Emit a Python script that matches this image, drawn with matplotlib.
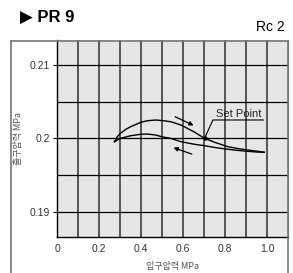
import matplotlib
matplotlib.use('Agg')
import matplotlib.pyplot as plt
from matplotlib.lines import Line2D
import numpy as np

plt.rcParams['font.family'] = ['Liberation Sans', 'DejaVu Sans', 'Noto Sans CJK KR']

# upper curve (increasing inlet pressure)
up_x = [0.272, 0.285, 0.301, 0.325, 0.349, 0.375, 0.397, 0.43, 0.469, 0.505, 0.541,
        0.59, 0.65, 0.701, 0.75, 0.813, 0.86, 0.909, 0.95, 0.985]
up_y = [0.19954, 0.2002, 0.20068, 0.2012, 0.20158, 0.2019, 0.20218, 0.2024, 0.2025,
        0.2024, 0.20226, 0.2018, 0.2009, 0.2000, 0.19945, 0.19885, 0.1986, 0.1984,
        0.19825, 0.1981]
# lower curve (decreasing inlet pressure)
dn_x = [0.272, 0.301, 0.349, 0.397, 0.43, 0.469, 0.50, 0.541, 0.589, 0.65, 0.701,
        0.75, 0.813, 0.86, 0.909, 0.95, 0.985]
dn_y = [0.19954, 0.2000, 0.20035, 0.20055, 0.20058, 0.20045, 0.2002, 0.19998,
        0.19954, 0.1992, 0.19899, 0.19875, 0.1985, 0.19835, 0.19822, 0.19813, 0.1981]
set_point = (0.701, 0.2)

x_ticks = [0, 0.2, 0.4, 0.6, 0.8, 1.0]
x_labels = ['0', '0.2', '0.4', '0.6', '0.8', '1.0']
y_ticks = [0.19, 0.2, 0.21]
y_labels = ['0.19', '0.2', '0.21']

fig = plt.figure(figsize=(2.93, 2.73), dpi=100)
ax = fig.add_axes([57.3 / 293, 1 - 236.7 / 273, (288.3 - 57.3) / 293, (236.7 - 40) / 273])
ax.set_facecolor('#e6e6e6')
ax.set_xlim(0, 1.1)
ax.set_ylim(0.18658, 0.21341)

for v in np.arange(0.1, 1.1, 0.1):
    ax.axvline(v, color='#4a4a4a', lw=1.3, zorder=1)
for h in [0.19, 0.195, 0.2, 0.205, 0.21]:
    ax.axhline(h, color='black', lw=0.9, zorder=1)

ax.plot(up_x, up_y, color='black', lw=1.0, zorder=3)
ax.plot(dn_x, dn_y, color='black', lw=1.0, zorder=3)
ax.plot(*set_point, 'o', color='black', ms=2.2, zorder=4)

ax.annotate('', xy=(0.661, 0.2016), xytext=(0.549, 0.2031),
            arrowprops=dict(arrowstyle='-|>', color='black', lw=0.9, mutation_scale=6))
ax.annotate('', xy=(0.541, 0.19885), xytext=(0.653, 0.19772),
            arrowprops=dict(arrowstyle='-|>', color='black', lw=0.9, mutation_scale=6))

ax.plot([0.701, 0.741, 0.981], [0.2, 0.2025, 0.2025], color='black', lw=0.8, zorder=4)
ax.text(0.865, 0.2027, 'Set Point', fontsize=8, ha='center', va='bottom', color='#222222')

ax.set_xticks(x_ticks)
ax.set_xticklabels(x_labels)
ax.set_yticks(y_ticks)
ax.set_yticklabels(y_labels)
ax.tick_params(axis='x', length=0, pad=5, labelsize=7.5, colors='#333333')
ax.tick_params(axis='y', length=3, pad=2, labelsize=7.5, colors='#333333')
ax.tick_params(axis='both', color='black')
for s in ['left', 'bottom']:
    ax.spines[s].set_color('black')
    ax.spines[s].set_linewidth(1.0)
ax.spines['top'].set_visible(False)
ax.spines['right'].set_color('#666666')

ax.set_xlabel('입구압력 MPa', fontsize=6.5, color='#555555', labelpad=6,
              family=['Noto Sans CJK KR', 'DejaVu Sans'])
ax.set_ylabel('출구압력 MPa', fontsize=6.5, color='#555555', labelpad=5,
              family=['Noto Sans CJK KR', 'DejaVu Sans'])

# outer frame
fx0, fx1, fy = 11 / 293, 288 / 293, 1 - 40.5 / 273
fig.add_artist(Line2D([fx0, fx1], [fy, fy], color='#777777', lw=1.2))
fig.add_artist(Line2D([fx0, fx0], [fy, 0], color='#777777', lw=1.2))
fig.add_artist(Line2D([fx1, fx1], [fy, 0], color='#777777', lw=1.2))

fig.text(20 / 293, 1 - 17 / 273, '▶ PR 9', fontsize=12, fontweight='bold', va='center')
fig.text(285 / 293, 1 - 27 / 273, 'Rc 2', fontsize=10, ha='right', va='center')

fig.savefig('out.png', dpi=100)
